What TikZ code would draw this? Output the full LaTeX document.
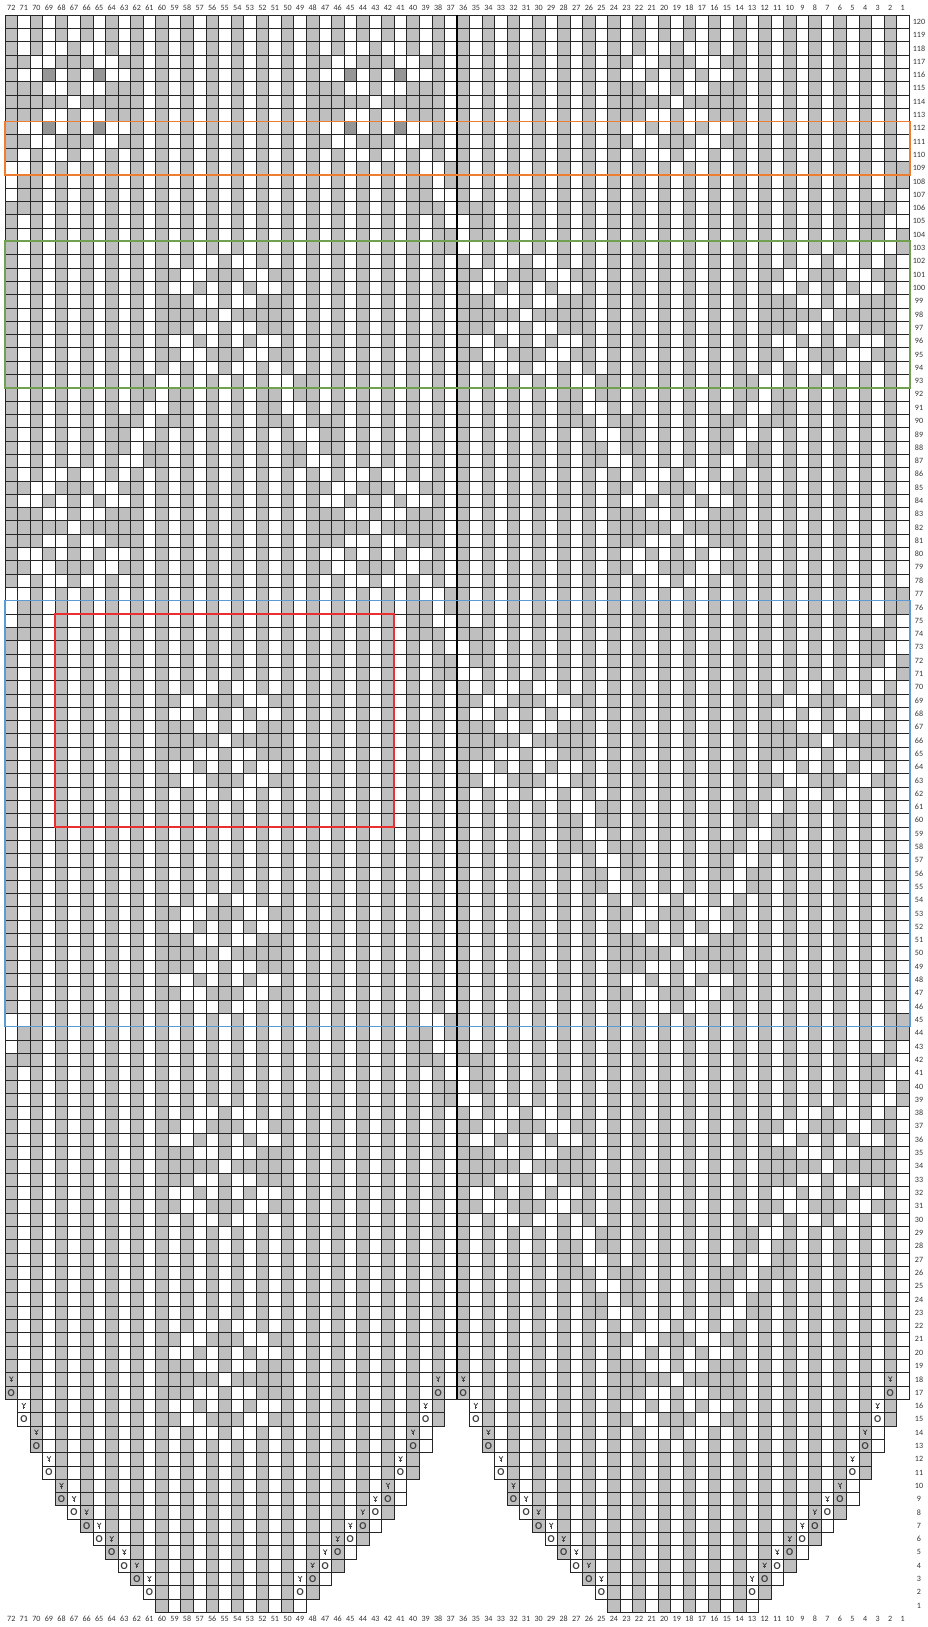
\documentclass[tikz,border=0pt]{standalone}
\usepackage{fontspec}
\setmainfont{Carlito}
\usetikzlibrary{positioning}

\definecolor{cellgray}{RGB}{191,191,191}
\definecolor{celldark}{RGB}{150,150,150}
\definecolor{boxorange}{RGB}{237,125,49}
\definecolor{boxgreen}{RGB}{112,160,80}
\definecolor{boxblue}{RGB}{91,155,213}
\definecolor{boxred}{RGB}{232,48,48}

% cell store: \motrow{first col}{row}{string}, cols run leftwards 72..1 and wrap round
\newcount\motc \newcount\motw
\def\motrow#1#2#3{\motc=\numexpr#1\relax\edef\motr{\the\numexpr#2\relax}\motscan#3\relax}
\def\motscan#1{\ifx#1\relax\else
  \if#1.\else
    \motw=\motc
    \ifnum\motw>72 \advance\motw by -72 \fi
    \ifnum\motw<1 \advance\motw by 72 \fi
    \expandafter\xdef\csname cc@\the\motw @\motr\endcsname{#1}\fi
  \advance\motc by -1 \expandafter\motscan\fi}

% lattice line from a star corner: corner col, corner row, +1/-1 col step per two rows
\newcommand\latline[3]{%
  \foreach \i in {1,...,7}{%
    \ifodd\i
      \motrow{#1+#3*(\i+#3)/2+1}{#2-\i}{gwwg}%
    \else
      \motrow{#1+#3*\i/2+2}{#2-\i}{ggwgg}%
    \fi}}

\newcommand\putstar[2]{%
  \motrow{#1+4}{#2+4}{.gwwgwwg.}%
  \motrow{#1+4}{#2+3}{gwwgggwwg}%
  \motrow{#1+4}{#2+2}{wwgwgwgww}%
  \motrow{#1+4}{#2+1}{ggwwgwwgg}%
  \motrow{#1+4}{#2}{ggggwgggg}%
  \motrow{#1+4}{#2-1}{ggwwgwwgg}%
  \motrow{#1+4}{#2-2}{wwgwgwgww}%
  \motrow{#1+4}{#2-3}{gwwgggwwg}%
  \motrow{#1+4}{#2-4}{.gwwgwwg.}}

% lattice lines
\latline{71}{110}{1}\latline{39}{110}{-1}
\latline{59}{94}{1}\latline{51}{94}{-1}\latline{27}{94}{-1}\latline{11}{94}{1}
\latline{71}{78}{1}\latline{39}{78}{-1}
\latline{27}{62}{-1}\latline{11}{62}{1}
\latline{39}{46}{-1}\latline{71}{46}{1}
\latline{27}{30}{-1}\latline{11}{30}{1}

% stars, left half
\putstar{55}{98}\putstar{55}{66}\putstar{55}{50}\putstar{55}{34}\putstar{55}{18}
\putstar{67}{114}\putstar{43}{114}\putstar{67}{82}\putstar{43}{82}
% stars, right half
\putstar{19}{114}\putstar{19}{82}\putstar{19}{50}\putstar{19}{18}
\putstar{31}{98}\putstar{7}{98}\putstar{31}{66}\putstar{7}{66}\putstar{31}{34}\putstar{7}{34}
% dark stitches
\motrow{69}{116}{d...d}\motrow{69}{112}{d...d}
\motrow{45}{116}{d...d}\motrow{45}{112}{d...d}

\tikzset{
  cell g/.style={draw=black!85,line width=.35pt,fill=cellgray},
  cell w/.style={draw=black!85,line width=.35pt,fill=white},
  cell d/.style={draw=black!85,line width=.35pt,fill=celldark},
  numlab/.style={font=\fontsize{4.6}{5}\selectfont,text=black!80,inner sep=0pt},
  yo/.style={font=\fontsize{6}{6}\selectfont\bfseries,text=black!75,inner sep=0pt},
  chartbox/.style={line width=1pt}
}

\newcommand\cellrow[3]{%
  \foreach \cn in {#3,...,#2}{%
    \ifcsname cc@\cn @#1\endcsname
      \edef\cf{\csname cc@\cn @#1\endcsname}%
    \else
      \ifodd\cn\relax\def\cf{w}\else\def\cf{g}\fi
    \fi
    \path[cell \cf] ({5+(72-\cn)*12.556},{15+(120-#1)*13.31}) rectangle ++(12.556,13.31);
  }}

\begin{document}
\begin{tikzpicture}[x=0.02cm,y=-0.02cm]
\useasboundingbox (0,0) rectangle (927,1627);

% shaped tips, rows 1-18
\foreach \rn/\L/\R in {1/60/49,2/61/48,3/62/47,4/63/46,5/64/45,6/65/44,7/66/43,8/67/42,9/68/41,10/68/41,11/69/40,12/69/40,13/70/39,14/70/39,15/71/38,16/71/38,17/72/37,18/72/37}{
  \cellrow{\rn}{\L}{\R}
  \pgfmathtruncatemacro\Lb{\L-36}\pgfmathtruncatemacro\Rb{\R-36}
  \cellrow{\rn}{\Lb}{\Rb}}
% full rows
\foreach \rn in {19,...,120}{\cellrow{\rn}{72}{1}}

% increases
\foreach \cn/\rn in {61/2,62/3,63/4,64/5,65/6,66/7,67/8,68/9,69/11,70/13,71/15,72/17,
                     49/2,48/3,47/4,46/5,45/6,44/7,43/8,42/9,41/11,40/13,39/15,38/17}{
  \node[yo] (yo-\cn-\rn) at ({5+(72.5-\cn)*12.556},{15+(120.5-\rn)*13.31}) {O};
  \node[yo] (yo-\cn-\rn-b) at ({5+(108.5-\cn)*12.556},{15+(120.5-\rn)*13.31}) {O};}
\foreach \cn/\rn in {61/3,62/4,63/5,64/6,65/7,66/8,67/9,68/10,69/12,70/14,71/16,72/18,
                     49/3,48/4,47/5,46/6,45/7,44/8,43/9,42/10,41/12,40/14,39/16,38/18}{
  \foreach \sh in {0,36}{
    \coordinate (v) at ({5+(72.5-\cn+\sh)*12.556},{15+(120.5-\rn)*13.31});
    \draw[black!75,line width=.45pt] ([xshift=-1.9*0.02cm,yshift=2.8*0.02cm]v) -- ([yshift=0.2*0.02cm]v) -- ([xshift=1.9*0.02cm,yshift=2.8*0.02cm]v);
    \draw[black!75,line width=.45pt] ([yshift=0.2*0.02cm]v) -- ([yshift=-2.8*0.02cm]v);
    \draw[black!75,line width=.35pt] ([xshift=-1.3*0.02cm,yshift=-0.9*0.02cm]v) -- ([xshift=1.3*0.02cm,yshift=-0.9*0.02cm]v);}}

% divider between the two halves
\draw[line width=1.1pt] (457,15) -- (457,1399.3);

% marked bands
\draw[chartbox,boxorange] (5,121.5) rectangle (910,174.7);
\draw[chartbox,boxgreen] (5,241.3) rectangle (910,387.7);
\draw[chartbox,boxblue] (5,600.6) rectangle (910,1026.6);
\draw[chartbox,boxred] (55.2,614) rectangle (394.2,827.2);

% column and row numbers
\foreach \cn in {1,...,72}{
  \node[numlab] (ct\cn) at ({5+(72.5-\cn)*12.556},8) {\cn};
  \node[numlab] (cb\cn) at ({5+(72.5-\cn)*12.556},1619) {\cn};}
\foreach \rn in {1,...,120}{
  \node[numlab] (rl\rn) at (919,{15+(120.5-\rn)*13.31}) {\rn};}
\end{tikzpicture}
\end{document}
